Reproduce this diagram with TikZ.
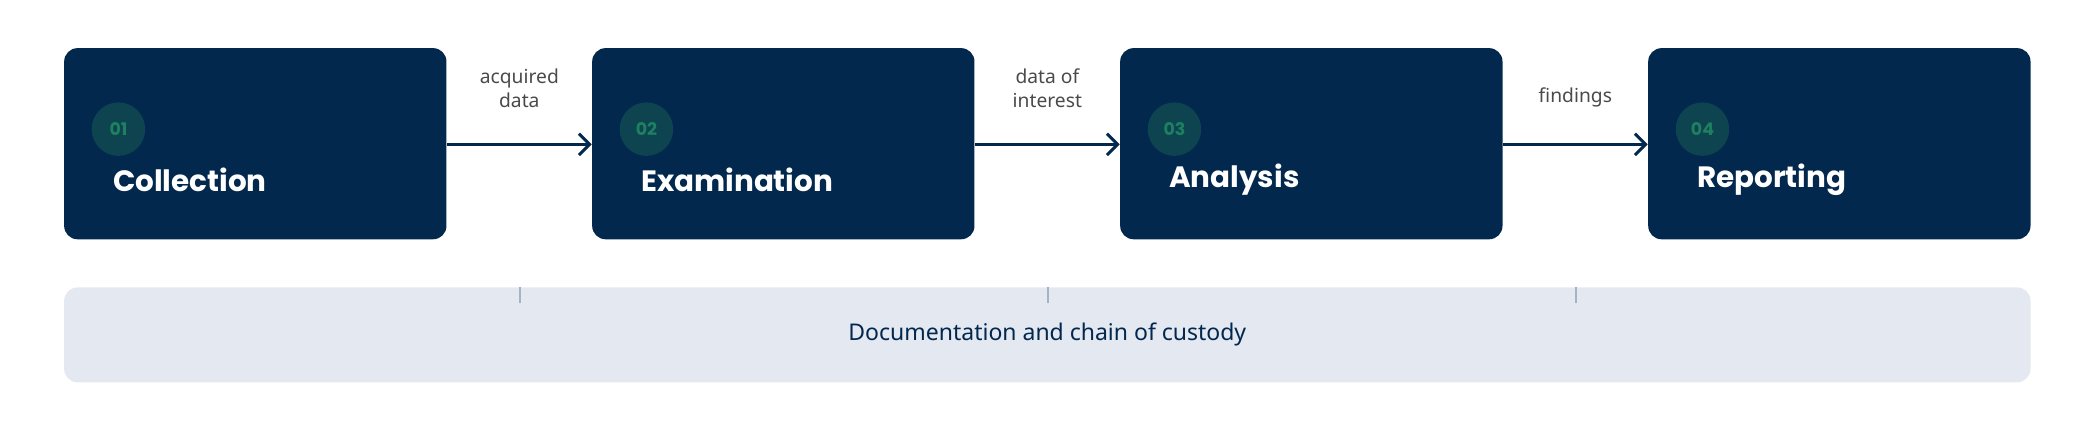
\documentclass[tikz,border=0pt]{standalone}
\usepackage{fontspec}
\setmainfont{Noto Sans}
\newfontfamily\titlefont{Poppins}
\usetikzlibrary{positioning,arrows.meta}
\definecolor{navy}{HTML}{02284E}
\definecolor{badge}{HTML}{0D4450}
\definecolor{badgetext}{HTML}{1E8060}
\definecolor{barfill}{HTML}{E3E8F1}
\definecolor{tickc}{HTML}{A3B3C6}
\definecolor{labelc}{HTML}{4A4A4A}
\tikzset{
    phase/.style={
           rectangle, rounded corners=5pt,
           fill=navy,
           minimum width=143pt,
           minimum height=71.5pt,
           inner sep=0pt
           },
    title/.style={
           font=\titlefont\fontsize{11}{13}\selectfont\bfseries,
           text=white, anchor=west
           },
    num/.style={
           circle, fill=badge, minimum size=20pt, inner sep=0pt,
           font=\titlefont\fontsize{6.5}{8}\selectfont\bfseries,
           text=badgetext
           },
    flow/.style={
           -{Straight Barb[length=4pt,width=8pt]}, line width=1.1pt, draw=navy
           },
    lbl/.style={
           font=\fontsize{7.2}{9}\selectfont, text=labelc, align=center
           }
}
\begin{document}
\begin{tikzpicture}[x=0.5pt,y=-0.5pt]
\useasboundingbox (0,0) rectangle (1568,323);
   \node[phase] (p1) at (191,107.5) {};
   \node[phase] (p2) at (586,107.5) {};
   \node[phase] (p3) at (981,107.5) {};
   \node[phase] (p4) at (1376,107.5) {};
   \foreach \i/\t/\n in {1/Collection/01,2/Examination/02,3/Analysis/03,4/Reporting/04} {
     \node[num] (n\i) at ([xshift=20.5pt,yshift=-30.5pt]p\i.north west) {\n};
     \node[title] (t\i) at ([xshift=15pt,yshift=-49.5pt]p\i.north west) {\t};
   }
   \draw[flow] (p1.east |- 0,108) -- (p2.west |- 0,108) node[lbl,pos=0.5,above=10pt] {acquired\\data};
   \draw[flow] (p2.east |- 0,108) -- (p3.west |- 0,108) node[lbl,pos=0.5,above=10pt] {data of\\interest};
   \draw[flow] (p3.east |- 0,108) -- (p4.west |- 0,108) node[lbl,pos=0.5,above=10pt] {findings};
   % documentation bar
   \node[rectangle, rounded corners=5pt, fill=barfill, minimum width=735.5pt,
         minimum height=35.5pt, inner sep=0pt,
         font=\fontsize{8.6}{10}\selectfont\bfseries, text=navy] (doc) at (783.5,250.5)
         {\fontspec{Noto Sans}[FakeBold=0]\mdseries Documentation and chain of custody};
   \foreach \x in {389,784,1179}
     \draw[tickc, line width=0.6pt] (\x,215) -- (\x,227);
\end{tikzpicture}
\end{document}
